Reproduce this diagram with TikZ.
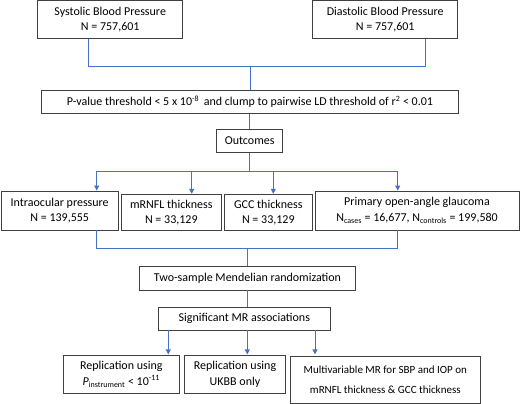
\documentclass[tikz,border=0pt]{standalone}
\usepackage{fontspec}
\setmainfont{Carlito}
\usetikzlibrary{arrows.meta}
\definecolor{linkblue}{RGB}{68,114,196}
\definecolor{boxgrey}{RGB}{64,64,64}

\tikzset{
  box/.style={draw=boxgrey, line width=0.9pt, fill=white, align=center, inner sep=0pt,
    font=\fontsize{12}{15.5}\selectfont},
  link/.style={draw=linkblue, line width=0.9pt},
  arrow/.style={link, -{Triangle[length=5pt,width=5pt]}}
}

\begin{document}
\begin{tikzpicture}[x=1pt, y=-1pt]
  \useasboundingbox (0,0) rectangle (520,404);

  % exposures
  \node[box, minimum width=145pt, minimum height=37.7pt] (sbp) at (110.2, 19.8) {Systolic Blood Pressure\\N = 757,601};
  \node[box, minimum width=145pt, minimum height=37.7pt] (dbp) at (385.2, 19.8) {Diastolic Blood Pressure\\N = 757,601};

  \node[box, minimum width=416.6pt, minimum height=23.3pt] (thr) at (250, 101.7)
    {P-value threshold < 5 x 10\textsuperscript{-8}\, and clump to pairwise LD threshold of r\textsuperscript{2} < 0.01};
  \node[box, minimum width=66pt, minimum height=23.4pt] (out) at (249.7, 141) {Outcomes};

  % outcomes
  \node[box, minimum width=117.3pt, minimum height=39pt] (iop) at (59.7, 210.5) {Intraocular pressure\\N = 139,555};
  \node[box, minimum width=100.7pt, minimum height=36.4pt] (rnfl) at (171.3, 212.5) {mRNFL thickness\\N = 33,129};
  \node[box, minimum width=88pt, minimum height=36.4pt] (gcc) at (268.3, 212.5) {GCC thickness\\N = 33,129};
  \node[box, minimum width=204pt, minimum height=39pt] (poag) at (417, 210.5)
    {Primary open-angle glaucoma\\N\textsubscript{cases} = 16,677, N\textsubscript{controls} = 199,580};

  \node[box, minimum width=216.4pt, minimum height=23.3pt] (mr) at (247.5, 278.3) {Two-sample Mendelian randomization};
  \node[box, minimum width=171.3pt, minimum height=22.3pt] (sig) at (244.3, 318.8) {Significant MR associations};

  % follow-up analyses
  \node[box, minimum width=116pt, minimum height=38pt] (rep1) at (121.3, 374.3)
    {Replication using\\\textit{P}\textsubscript{instrument} < 10\textsuperscript{-11}};
  \node[box, minimum width=101.4pt, minimum height=38pt] (rep2) at (235, 374.3) {Replication using\\UKBB only};
  \node[box, minimum width=189.3pt, minimum height=47.3pt, font=\fontsize{11}{20}\selectfont] (mv) at (385.3, 379.7)
    {Multivariable MR for SBP and IOP on\\mRNFL thickness \& GCC thickness};

  \coordinate (bend) at (250, 66.7);
  \coordinate (fork) at (249.7, 171.7);
  \coordinate (merge) at (247.3, 248.3);

  \draw[link] ([xshift=-21.9pt]sbp.south) |- (bend) -| ([xshift=39.8pt]dbp.south);
  \draw[link] (bend) -- (thr.north);
  \draw[link] (thr.south -| out.north) -- (out.north);
  \draw[link] (out.south) -- (fork);

  \draw[arrow] (fork) -| ([xshift=37pt]iop.north);
  \draw[arrow] (fork) -| ([xshift=20.4pt]rnfl.north);
  \draw[arrow] (fork) -| ([xshift=5pt]gcc.north);
  \draw[arrow] (fork) -| ([xshift=-19.3pt]poag.north);

  \draw[link] ([xshift=37pt]iop.south) |- (merge) -| ([xshift=-19.3pt]poag.south);
  \draw[link] (merge) -- (merge |- mr.north);
  \draw[link] (merge |- mr.south) -- (merge |- sig.north);

  \draw[arrow] ([xshift=-76pt]sig.south) -- ++(0, 24);
  \draw[arrow] ([xshift=3pt]sig.south) -- ++(0, 24);
  \draw[arrow] ([xshift=70.7pt]sig.south) -- ++(0, 24);
\end{tikzpicture}
\end{document}
